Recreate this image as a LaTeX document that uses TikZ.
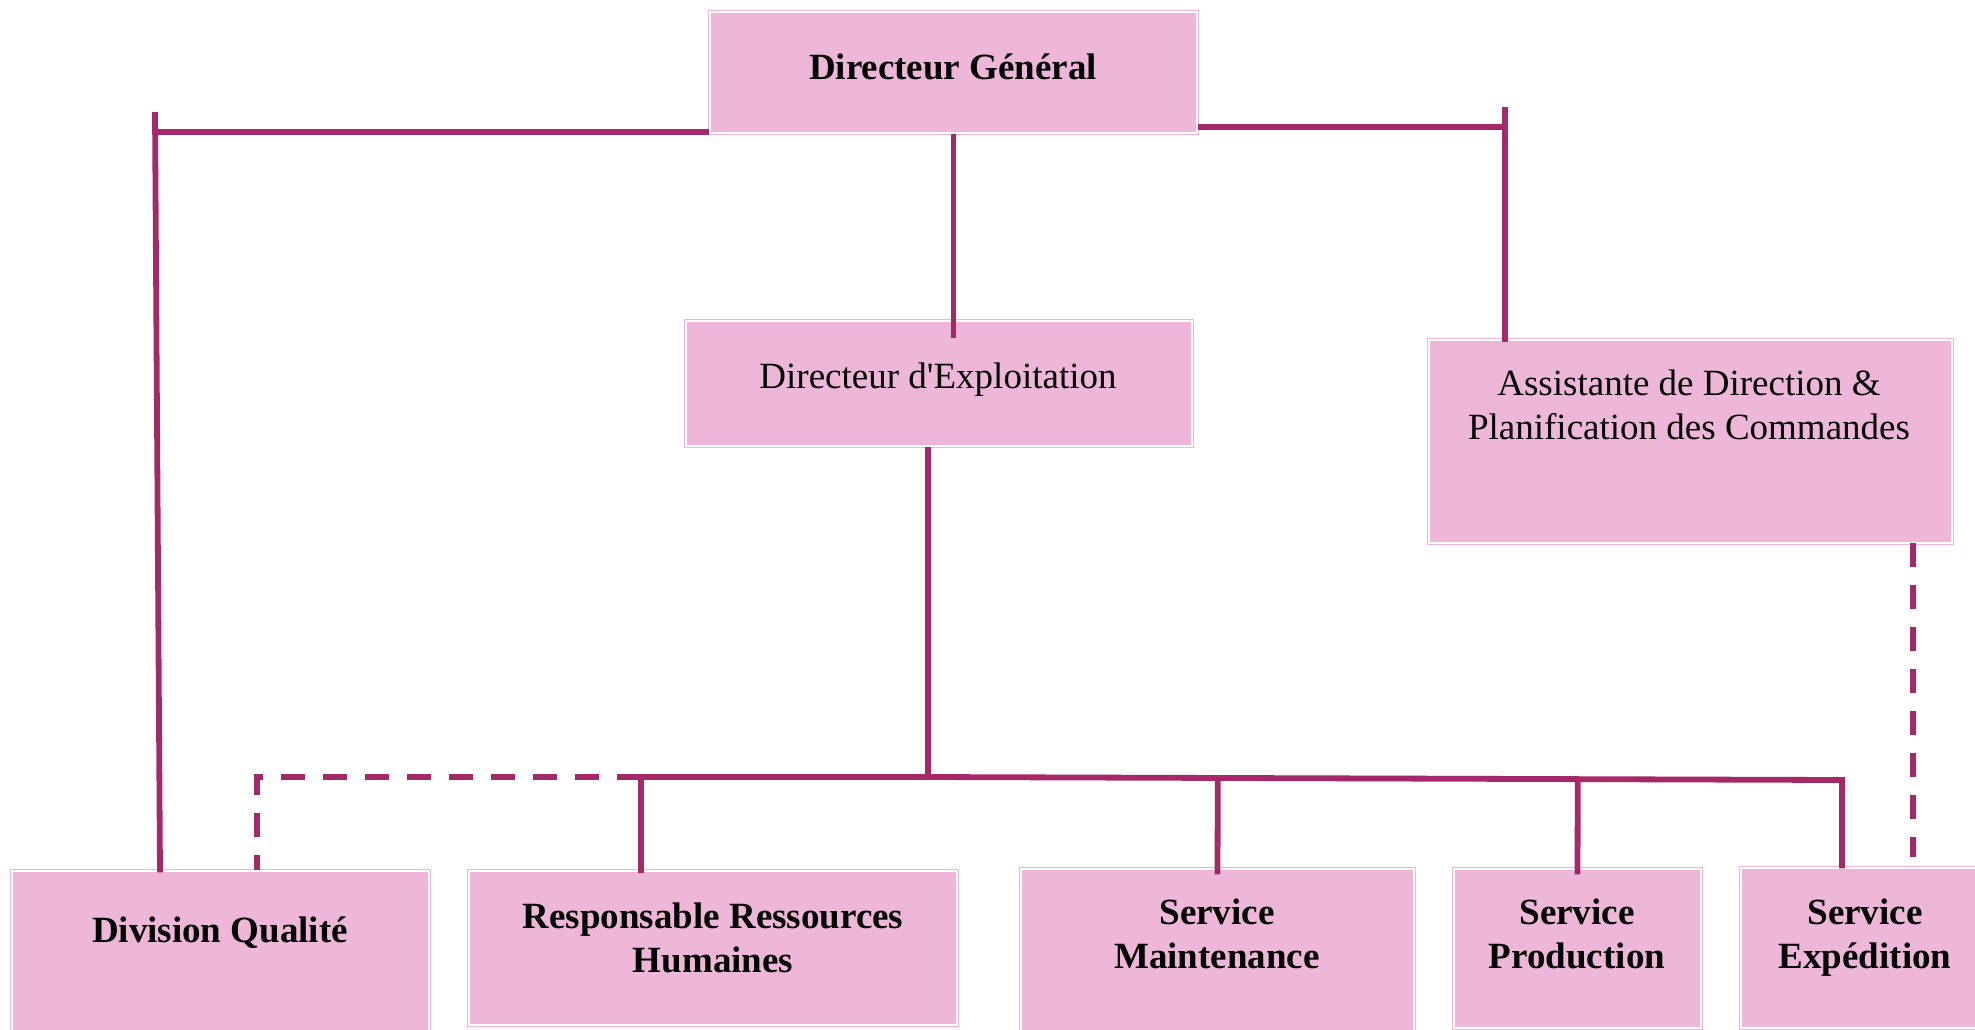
\documentclass[tikz,border=0pt]{standalone}
\usepackage{fontspec}
\setmainfont{Liberation Serif}
\usetikzlibrary{calc}
\definecolor{boxfill}{RGB}{238,183,217}
\definecolor{boxedge}{RGB}{240,180,218}
\definecolor{linecol}{RGB}{165,40,105}
\tikzset{
  orgbox/.style={rectangle, draw=boxedge, double=white, double distance=1.6pt,
    line width=1.2pt, fill=boxfill, inner sep=0pt},
  lbl/.style={align=center, inner sep=0pt, text=black,
    font=\fontsize{37pt}{44pt}\selectfont},
  blbl/.style={lbl, font=\fontsize{37pt}{44pt}\selectfont\bfseries},
  conn/.style={draw=linecol, line width=5.8pt},
  dconn/.style={conn, dash pattern=on 24pt off 18pt}
}
\begin{document}
\begin{tikzpicture}[x=1pt, y=-1pt]
\useasboundingbox (0,0) rectangle (1975,1029);
\clip (0,0) rectangle (1975,1029);
\fill[white] (0,0) rectangle (1975,1029);

% boxes
\node[orgbox, minimum width=487pt, minimum height=121pt] (dg) at (953.5,72.5) {};
\node[orgbox, minimum width=506pt, minimum height=125pt] (de) at (939,383.5) {};
\node[orgbox, minimum width=523pt, minimum height=203pt] (as) at (1690.5,441.5) {};
\node[orgbox, minimum width=417pt, minimum height=181pt] (dq) at (220.5,961.5) {};
\node[orgbox, minimum width=488pt, minimum height=154pt] (rrh) at (713,948) {};
\node[orgbox, minimum width=393pt, minimum height=183pt] (sm) at (1217.5,960.5) {};
\node[orgbox, minimum width=247pt, minimum height=159pt] (sp) at (1577.5,948.5) {};
\node[orgbox, minimum width=247pt, minimum height=160pt] (se) at (1864.5,948) {};

% texts
\node[blbl] (tdg) at (953,67) {Directeur Général};
\node[lbl] (tde) at (938,380) {Directeur d\textquotesingle Exploitation};
\node[lbl] (tas) at (1689,405) {Assistante de Direction \&\\Planification des Commandes};
\node[blbl] (tdq) at (220,933) {Division Qualité};
\node[blbl] (trrh) at (713,937.5) {Responsable Ressources\\Humaines};
\node[blbl] (tsm) at (1217,934) {Service\\Maintenance};
\node[blbl] (tsp) at (1577,934) {Service\\Production};
\node[blbl] (tse) at (1865,938) {Service\\Expédition};

% junction coordinates
\coordinate (jL) at (155,132);
\coordinate (jLtop) at (155,112);
\coordinate (jLbot) at (160,0);
\coordinate (jR) at (1505,127);
\coordinate (jRtop) at (1505,107);
\coordinate (bus) at (928,777);
\coordinate (rrhJ) at (641,777);
\coordinate (dqJ) at (257,777);
\coordinate (seJ) at (1842,780);
\coordinate (asJ) at (1913,0);

% connectors
\draw[conn] (jL -| dg.west) -- (jL);
\draw[conn] (jLtop) -- ([yshift=-2pt]jLbot |- dq.north);
\draw[conn] (jR -| dg.east) -- (jR);
\draw[conn] (jRtop) -- ([yshift=-3pt]jRtop |- as.north);
\draw[conn] (dg.south) -- ([yshift=-18pt]dg.south |- de.north);
\draw[conn] (de.south -| bus) -- (bus);
\draw[conn] (bus) -- (rrhJ) -- ([yshift=-3pt]rrhJ |- rrh.north);
\draw[conn] (bus) -- (seJ) -- ([yshift=-1pt]seJ |- se.north);
\draw[conn] ($(bus)!(sm.north)!(seJ)$) -- ([yshift=-6pt]sm.north);
\draw[conn] ($(bus)!(sp.north)!(seJ)$) -- ([yshift=-6pt]sp.north);
\draw[dconn] (rrhJ) -- (dqJ) -- (dqJ |- dq.north);
\draw[dconn] ([yshift=1pt]asJ |- as.south) -- ([yshift=10pt]asJ |- se.north);
\end{tikzpicture}
\end{document}
